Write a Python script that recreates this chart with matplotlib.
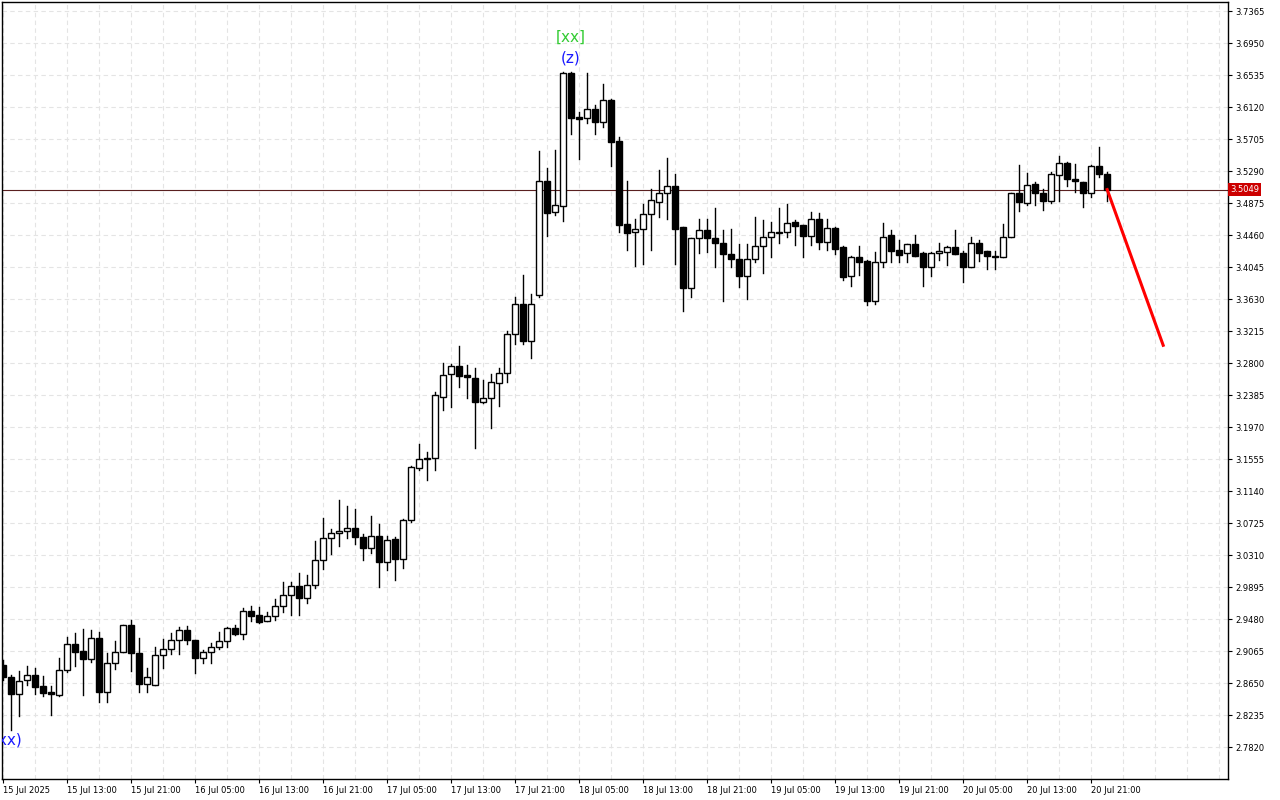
import matplotlib
matplotlib.use("Agg")
import matplotlib.pyplot as plt
from matplotlib.patches import Rectangle

opens = [2.888,2.873,2.851,2.869,2.875,2.861,2.853,2.849,2.882,2.916,2.906,2.896,2.923,2.853,2.891,2.905,2.940,2.904,2.864,2.862,
         2.901,2.909,2.921,2.934,2.921,2.897,2.905,2.912,2.919,2.936,2.928,2.958,2.953,2.945,2.952,2.965,2.979,2.991,2.975,2.992,
         3.025,3.053,3.060,3.062,3.066,3.054,3.040,3.056,3.022,3.052,3.026,3.076,3.144,3.157,3.157,3.236,3.266,3.276,3.264,3.260,
         3.229,3.234,3.254,3.267,3.318,3.356,3.308,3.368,3.516,3.476,3.484,3.656,3.599,3.598,3.609,3.593,3.621,3.568,3.460,3.450,
         3.454,3.473,3.489,3.501,3.509,3.457,3.377,3.442,3.452,3.442,3.436,3.422,3.415,3.393,3.415,3.432,3.444,3.449,3.450,3.463,
         3.459,3.445,3.467,3.437,3.455,3.430,3.393,3.417,3.412,3.361,3.411,3.446,3.427,3.423,3.434,3.423,3.404,3.423,3.424,3.430,
         3.423,3.405,3.436,3.425,3.419,3.418,3.444,3.501,3.488,3.512,3.501,3.490,3.524,3.539,3.519,3.515,3.501,3.536,3.525]
highs = [2.895,2.876,2.880,2.887,2.885,2.874,2.861,2.897,2.925,2.930,2.935,2.934,2.931,2.904,2.919,2.940,2.947,2.923,2.884,2.912,
         2.922,2.930,2.938,2.939,2.921,2.908,2.917,2.931,2.938,2.940,2.962,2.965,2.964,2.957,2.974,2.996,2.996,3.008,3.005,3.049,
         3.079,3.065,3.102,3.095,3.091,3.058,3.082,3.071,3.056,3.054,3.078,3.146,3.175,3.165,3.242,3.280,3.279,3.302,3.277,3.273,
         3.258,3.266,3.274,3.322,3.365,3.394,3.369,3.555,3.533,3.556,3.657,3.657,3.605,3.656,3.615,3.642,3.622,3.573,3.516,3.467,
         3.486,3.506,3.530,3.546,3.525,3.457,3.442,3.467,3.467,3.481,3.452,3.454,3.434,3.434,3.469,3.465,3.463,3.481,3.486,3.466,
         3.459,3.476,3.475,3.467,3.457,3.432,3.419,3.432,3.414,3.424,3.462,3.453,3.440,3.434,3.446,3.424,3.424,3.435,3.432,3.453,
         3.425,3.443,3.440,3.425,3.425,3.460,3.501,3.537,3.527,3.515,3.506,3.528,3.549,3.541,3.538,3.515,3.537,3.560,3.528]
lows = [2.869,2.804,2.822,2.862,2.851,2.848,2.824,2.848,2.879,2.887,2.849,2.892,2.840,2.840,2.883,2.905,2.880,2.853,2.853,2.862,
        2.884,2.902,2.902,2.916,2.878,2.891,2.891,2.909,2.912,2.927,2.922,2.945,2.943,2.945,2.947,2.957,2.953,2.953,2.969,2.988,
        3.013,3.032,3.043,3.053,3.045,3.025,3.034,2.989,3.012,2.998,3.014,3.074,3.141,3.128,3.141,3.219,3.223,3.249,3.234,3.170,
        3.228,3.196,3.224,3.255,3.305,3.305,3.286,3.365,3.445,3.472,3.464,3.577,3.545,3.591,3.577,3.586,3.536,3.450,3.427,3.406,
        3.408,3.427,3.469,3.467,3.408,3.347,3.365,3.423,3.424,3.404,3.360,3.404,3.379,3.363,3.411,3.397,3.417,3.436,3.443,3.433,
        3.417,3.433,3.428,3.427,3.421,3.388,3.380,3.394,3.355,3.357,3.405,3.411,3.411,3.411,3.419,3.380,3.393,3.414,3.407,3.421,
        3.385,3.404,3.412,3.402,3.402,3.418,3.444,3.477,3.485,3.485,3.479,3.488,3.490,3.510,3.502,3.482,3.495,3.521,3.490]
closes = [2.873,2.851,2.868,2.876,2.860,2.852,2.851,2.882,2.916,2.905,2.896,2.923,2.853,2.891,2.905,2.940,2.904,2.864,2.873,2.901,
          2.909,2.921,2.934,2.921,2.897,2.905,2.912,2.919,2.936,2.928,2.958,2.952,2.944,2.952,2.965,2.979,2.991,2.975,2.992,3.025,
          3.053,3.060,3.062,3.066,3.054,3.040,3.056,3.022,3.050,3.026,3.076,3.145,3.156,3.156,3.238,3.264,3.276,3.263,3.262,3.229,
          3.234,3.255,3.267,3.318,3.356,3.308,3.357,3.516,3.475,3.485,3.656,3.598,3.597,3.609,3.593,3.621,3.567,3.459,3.449,3.454,
          3.473,3.491,3.501,3.509,3.454,3.377,3.442,3.452,3.442,3.435,3.422,3.415,3.393,3.415,3.432,3.444,3.450,3.450,3.462,3.458,
          3.445,3.467,3.437,3.455,3.428,3.392,3.417,3.411,3.361,3.411,3.444,3.425,3.420,3.434,3.419,3.404,3.423,3.425,3.430,3.422,
          3.405,3.436,3.423,3.419,3.418,3.443,3.501,3.489,3.511,3.501,3.490,3.525,3.539,3.519,3.516,3.501,3.536,3.525,3.5049]

xlabels = ["15 Jul 2025","15 Jul 13:00","15 Jul 21:00","16 Jul 05:00","16 Jul 13:00","16 Jul 21:00",
           "17 Jul 05:00","17 Jul 13:00","17 Jul 21:00","18 Jul 05:00","18 Jul 13:00","18 Jul 21:00",
           "19 Jul 05:00","19 Jul 13:00","19 Jul 21:00","20 Jul 05:00","20 Jul 13:00","20 Jul 21:00"]
yticks = [3.7365,3.6950,3.6535,3.6120,3.5705,3.5290,3.4875,3.4460,3.4045,3.3630,3.3215,3.2800,
          3.2385,3.1970,3.1555,3.1140,3.0725,3.0310,2.9895,2.9480,2.9065,2.8650,2.8235,2.7820]
current_price = 3.5049
forecast_x = [138, 145]
forecast_y = [3.5049, 3.303]

fig = plt.figure(figsize=(12.8, 8), dpi=100)
ax = fig.add_axes([2/1280, 21/800, 1226/1280, 777/800])
ax.set_xlim(-0.125, 153.1)
ax.set_ylim(2.7405, 3.7482)

for yt in yticks:
    ax.axhline(yt, color="#e4e4e4", lw=0.8, ls=(0, (4, 3)), zorder=0)
for gx in range(0, 154, 4):
    ax.axvline(gx, color="#e4e4e4", lw=0.8, ls=(0, (4, 3)), zorder=0)

w = 0.7
for i, (o, h, l, c) in enumerate(zip(opens, highs, lows, closes)):
    ax.plot([i, i], [l, h], color="black", lw=1, zorder=2)
    bull = c >= o
    bot = min(o, c)
    hgt = max(abs(c - o), 0.0008)
    ax.add_patch(Rectangle((i - w/2, bot), w, hgt, facecolor="white" if bull else "black",
                           edgecolor="black", lw=1, zorder=3))

ax.axhline(current_price, color="#5a2020", lw=0.8, zorder=1)
ax.plot(forecast_x, forecast_y, color="#ff0000", lw=2.2, zorder=4)

ax.text(70.9, 3.703, "[xx]", color="#33cc33", fontsize=11, ha="center", va="center")
ax.text(70.9, 3.676, "(z)", color="#1a1aff", fontsize=11, ha="center", va="center")
ax.text(0.6, 2.791, "(xx)", color="#1a1aff", fontsize=11, ha="center", va="center", clip_on=True)

ax.yaxis.tick_right()
ax.set_yticks(yticks)
ax.set_yticklabels([f"{v:.4f}" for v in yticks], fontsize=6)
ax.tick_params(axis="y", length=3, pad=2)
ax.set_xticks(list(range(0, 8 * len(xlabels), 8)))
ax.set_xticklabels(xlabels, fontsize=6, ha="left")
ax.tick_params(axis="x", length=3, pad=2)
for s in ax.spines.values():
    s.set_color("black")
    s.set_linewidth(1)

ax.text(1.0 + 2/1226, current_price, "3.5049", transform=ax.get_yaxis_transform(), fontsize=6,
        color="white", va="center", ha="left",
        bbox=dict(boxstyle="square,pad=0.2", facecolor="#cc0000", edgecolor="none"))

fig.savefig("out.png", dpi=100, facecolor="white")
